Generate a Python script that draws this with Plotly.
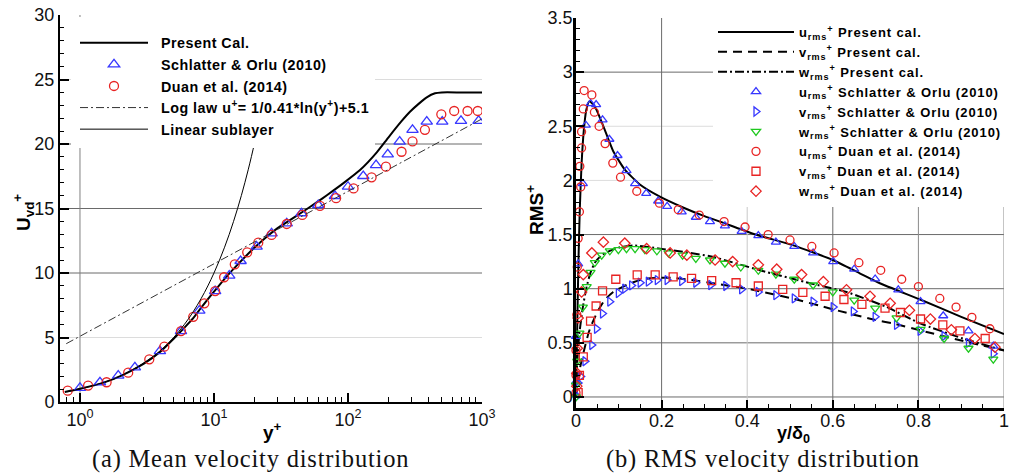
import plotly.graph_objects as go

# ---------------- (a) mean velocity distribution ----------------
yp_cal = [0.77, 1, 1.5, 2, 3, 4, 5, 6, 7, 8, 10, 12, 15, 20, 25, 30, 35, 46, 58, 70,
          92, 123, 164, 200, 250, 290, 340, 387, 446, 500, 700, 1000]
u_cal = [0.77, 1.02, 1.5, 2.0, 2.98, 3.92, 4.9, 5.75, 6.5, 7.3, 8.55, 9.55, 10.65, 11.95,
         12.85, 13.5, 13.95, 14.75, 15.45, 16.05, 16.95, 17.98, 19.35, 20.5, 21.75, 22.5,
         23.15, 23.62, 23.93, 24.0, 24.0, 24.0]

yp_schlatter = [1.0, 1.41, 1.93, 2.57, 3.95, 5.67, 7.77, 10.2, 13.0, 15.8, 20.8, 26.9, 34.9,
                45, 60, 80, 100, 130, 162, 198, 243, 303, 387, 505, 697, 943]
u_schlatter = [1.1, 1.53, 2.04, 2.69, 3.95, 5.5, 7.08, 8.6, 9.8, 10.93, 12.04, 13.07, 13.85,
               14.63, 15.27, 15.97, 16.69, 17.52, 18.37, 19.2, 20.18, 21.09, 21.73, 21.73,
               21.8, 21.8]

yp_duan = [0.81, 1.15, 1.58, 2.29, 3.29, 4.26, 5.67, 7.0, 8.47, 10.2, 11.9, 14.3, 17.7, 21.4,
           26.9, 34.9, 45.6, 61.8, 81.5, 110, 150, 192, 251, 303, 375, 497, 620, 780, 930]
u_duan = [0.88, 1.27, 1.53, 2.27, 3.31, 4.29, 5.5, 6.6, 7.65, 8.6, 9.67, 10.67, 11.6, 12.35,
          12.95, 13.8, 14.5, 15.2, 15.8, 16.56, 17.42, 18.24, 19.4, 20.2, 21.1, 22.3, 22.56,
          22.56, 22.56]

# log law is a straight line on the log axis: its two end points
yp_loglaw = [0.79, 1000]
u_loglaw = [4.52, 21.95]

yp_linear = [0.8, 1, 2, 4, 6, 8, 10, 12, 14, 16, 18, 20, 21]
u_linear = [0.8, 1, 2, 4, 6, 8, 10, 12, 14, 16, 18, 20, 21]

# ---------------- (b) RMS velocity distribution ----------------
x_u_cal = [0, 0.002, 0.004, 0.006, 0.009, 0.013, 0.018, 0.024, 0.031, 0.038, 0.047, 0.064,
           0.087, 0.114, 0.15, 0.196, 0.25, 0.3, 0.35, 0.42, 0.508, 0.6, 0.664, 0.71, 0.804,
           0.9, 1.0]
u_rms_cal = [0, 0.45, 0.9, 1.3, 1.75, 2.15, 2.45, 2.65, 2.73, 2.71, 2.66, 2.50, 2.27, 2.10,
             1.96, 1.85, 1.75, 1.67, 1.60, 1.50, 1.40, 1.265, 1.14, 1.05, 0.90, 0.74, 0.58]

x_v_cal = [0, 0.004, 0.01, 0.02, 0.03, 0.04, 0.052, 0.068, 0.087, 0.11, 0.134, 0.16, 0.196,
           0.227, 0.27, 0.32, 0.4, 0.5, 0.6, 0.7, 0.74, 0.81, 0.89, 1.0]
v_rms_cal = [0, 0.12, 0.28, 0.45, 0.6, 0.7, 0.80, 0.90, 0.97, 1.02, 1.06, 1.09, 1.10, 1.10,
             1.08, 1.05, 1.0, 0.915, 0.81, 0.71, 0.68, 0.61, 0.53, 0.43]

x_w_cal = [0, 0.003, 0.008, 0.016, 0.025, 0.034, 0.044, 0.06, 0.079, 0.1, 0.134, 0.196, 0.313,
           0.43, 0.547, 0.632, 0.726, 0.804, 0.904, 1.0]
w_rms_cal = [0, 0.33, 0.59, 0.83, 1.02, 1.15, 1.24, 1.31, 1.35, 1.38, 1.40, 1.37, 1.30, 1.17,
             1.05, 0.97, 0.83, 0.68, 0.54, 0.43]

x_u_sch = [0.0, 0.0, 0.0, 0.005, 0.016, 0.023, 0.034, 0.047, 0.062, 0.078, 0.097, 0.118, 0.138,
           0.164, 0.192, 0.213, 0.247, 0.28, 0.313, 0.348, 0.387, 0.426, 0.467, 0.51, 0.554,
           0.601, 0.650, 0.699, 0.753, 0.805, 0.858, 0.917, 0.975]
u_rms_sch = [0.02, 0.14, 0.56, 1.23, 1.97, 2.51, 2.71, 2.70, 2.56, 2.38, 2.23, 2.09, 1.97, 1.88,
             1.81, 1.76, 1.71, 1.66, 1.62, 1.58, 1.53, 1.49, 1.43, 1.39, 1.33, 1.25, 1.18,
             1.09, 0.99, 0.88, 0.75, 0.61, 0.47]

x_v_sch = [0.001, 0.005, 0.011, 0.021, 0.037, 0.048, 0.062, 0.079, 0.099, 0.114, 0.13, 0.15,
           0.169, 0.19, 0.213, 0.247, 0.28, 0.315, 0.35, 0.387, 0.426, 0.467, 0.51, 0.554,
           0.601, 0.648, 0.699, 0.749, 0.804, 0.86, 0.917, 0.975]
v_rms_sch = [0.0, 0.13, 0.19, 0.33, 0.48, 0.63, 0.77, 0.88, 0.96, 1.0, 1.03, 1.055, 1.065,
             1.08, 1.08, 1.07, 1.055, 1.034, 1.025, 0.994, 0.97, 0.94, 0.91, 0.88, 0.83, 0.79,
             0.74, 0.665, 0.61, 0.563, 0.50, 0.40]

x_w_sch = [0.0, 0.0, 0.003, 0.008, 0.016, 0.025, 0.034, 0.044, 0.06, 0.079, 0.099, 0.118,
           0.138, 0.161, 0.189, 0.216, 0.249, 0.28, 0.313, 0.348, 0.385, 0.426, 0.467, 0.51,
           0.554, 0.6, 0.65, 0.699, 0.749, 0.805, 0.86, 0.917, 0.975]
w_rms_sch = [0.0, 0.11, 0.33, 0.59, 0.83, 1.02, 1.15, 1.24, 1.31, 1.35, 1.36, 1.37, 1.37,
             1.36, 1.35, 1.33, 1.31, 1.28, 1.265, 1.235, 1.20, 1.17, 1.135, 1.087, 1.034,
             0.97, 0.895, 0.82, 0.73, 0.625, 0.54, 0.45, 0.35]

x_u_duan = [0.0, 0.0, 0.0, 0.002, 0.003, 0.005, 0.008, 0.011, 0.009, 0.013, 0.013, 0.017,
            0.019, 0.037, 0.043, 0.054, 0.068, 0.086, 0.104, 0.142, 0.195, 0.239, 0.288,
            0.346, 0.395, 0.449, 0.5, 0.551, 0.603, 0.661, 0.712, 0.761, 0.80, 0.85, 0.888,
            0.925, 0.967]
u_rms_duan = [0.04, 0.2, 0.43, 0.76, 1.2, 1.465, 1.71, 1.94, 2.13, 2.30, 2.45, 2.66, 2.83,
              2.79, 2.63, 2.50, 2.34, 2.16, 2.03, 1.90, 1.79, 1.73, 1.68, 1.62, 1.57, 1.50,
              1.45, 1.39, 1.33, 1.24, 1.17, 1.087, 1.02, 0.91, 0.83, 0.735, 0.63]

x_v_duan = [0.005, 0.008, 0.017, 0.026, 0.034, 0.047, 0.062, 0.093, 0.143, 0.185, 0.227, 0.27,
            0.317, 0.374, 0.426, 0.483, 0.53, 0.582, 0.626, 0.668, 0.722, 0.758, 0.805, 0.857,
            0.897, 0.956]
v_rms_duan = [0.04, 0.2, 0.37, 0.55, 0.70, 0.84, 0.98, 1.087, 1.127, 1.127, 1.11, 1.095,
              1.075, 1.055, 1.025, 0.994, 0.966, 0.93, 0.90, 0.855, 0.82, 0.78, 0.72, 0.665,
              0.61, 0.54]

x_w_duan = [0.002, 0.002, 0.003, 0.005, 0.013, 0.017, 0.037, 0.064, 0.114, 0.165, 0.22, 0.259,
            0.325, 0.366, 0.426, 0.469, 0.527, 0.578, 0.632, 0.687, 0.734, 0.779, 0.828,
            0.877, 0.932, 0.979]
w_rms_duan = [0.1, 0.22, 0.45, 0.73, 0.97, 1.13, 1.33, 1.43, 1.42, 1.37, 1.33, 1.31, 1.265,
              1.25, 1.22, 1.18, 1.13, 1.065, 0.99, 0.93, 0.865, 0.80, 0.72, 0.62, 0.54, 0.46]

# ---------------- styling ----------------
BLUE = "rgb(55,55,255)"
RED = "rgb(232,35,35)"
GREEN = "rgb(30,200,30)"
SANS = "Liberation Sans"
SERIF = "Liberation Serif"
W, H = 1009, 474


def px_x(p):
    return p / W


def px_y(p):
    return (H - p) / H


def spaced(text, px):
    return '<span style="letter-spacing:%spx">%s</span>' % (px, text)


fig = go.Figure()

# panel (a)
LEG_A = "\u00a0\u00a0"
fig.add_trace(go.Scatter(x=yp_cal, y=u_cal, mode="lines", name=LEG_A + spaced("Present Cal.", 0.5),
                         line=dict(color="black", width=2, shape="spline", smoothing=0.5),
                         legend="legend", xaxis="x", yaxis="y"))
fig.add_trace(go.Scatter(x=yp_schlatter, y=u_schlatter, mode="markers",
                         name=LEG_A + spaced("Schlatter &amp; Orlu (2010)", 0.5), legend="legend",
                         marker=dict(symbol="triangle-up-open", size=10, color=BLUE,
                                     line=dict(width=1.3)),
                         xaxis="x", yaxis="y"))
fig.add_trace(go.Scatter(x=yp_duan, y=u_duan, mode="markers",
                         name=LEG_A + spaced("Duan et al. (2014)", 0.5), legend="legend",
                         marker=dict(symbol="circle-open", size=9, color=RED,
                                     line=dict(width=1.3)),
                         xaxis="x", yaxis="y"))
fig.add_trace(go.Scatter(x=yp_loglaw, y=u_loglaw, mode="lines",
                         name=LEG_A + spaced("Log law u<sup>+</sup>= 1/0.41*ln(y<sup>+</sup>)+5.1", 0.5),
                         legend="legend",
                         line=dict(color="#333333", width=1, dash="8px,3px,2px,3px"),
                         xaxis="x", yaxis="y"))
fig.add_trace(go.Scatter(x=yp_linear, y=u_linear, mode="lines",
                         name=LEG_A + spaced("Linear sublayer", 0.5),
                         legend="legend", line=dict(color="black", width=1, shape="spline"),
                         xaxis="x", yaxis="y"))

# panel (b)
rms = "<sub>rms</sub><sup>+</sup>"
LS_B = 0.9
fig.add_trace(go.Scatter(x=x_u_cal, y=u_rms_cal, mode="lines",
                         name=spaced("u" + rms + " Present cal.", LS_B),
                         legend="legend2",
                         line=dict(color="black", width=2, shape="spline", smoothing=0.5),
                         xaxis="x2", yaxis="y2"))
fig.add_trace(go.Scatter(x=x_v_cal, y=v_rms_cal, mode="lines",
                         name=spaced("v" + rms + " Present cal.", LS_B),
                         legend="legend2",
                         line=dict(color="black", width=2, dash="9px,6px", shape="spline",
                                   smoothing=0.5),
                         xaxis="x2", yaxis="y2"))
fig.add_trace(go.Scatter(x=x_w_cal, y=w_rms_cal, mode="lines",
                         name=spaced("w" + rms + " Present cal.", LS_B),
                         legend="legend2",
                         line=dict(color="black", width=2, dash="9px,3px,2px,3px",
                                   shape="spline", smoothing=0.5),
                         xaxis="x2", yaxis="y2"))

marker_sets = [
    (x_u_sch, u_rms_sch, "u" + rms + " Schlatter &amp; Orlu (2010)", "triangle-up-open", BLUE),
    (x_v_sch, v_rms_sch, "v" + rms + " Schlatter &amp; Orlu (2010)", "triangle-right-open", BLUE),
    (x_w_sch, w_rms_sch, "w" + rms + " Schlatter &amp; Orlu (2010)", "triangle-down-open", GREEN),
    (x_u_duan, u_rms_duan, "u" + rms + " Duan et al. (2014)", "circle-open", RED),
    (x_v_duan, v_rms_duan, "v" + rms + " Duan et al. (2014)", "square-open", RED),
    (x_w_duan, w_rms_duan, "w" + rms + " Duan et al. (2014)", "diamond-open", RED),
]
for xs, ys, name, sym, col in marker_sets:
    fig.add_trace(go.Scatter(x=xs, y=ys, mode="markers", name=spaced(name, LS_B),
                             legend="legend2", cliponaxis=False,
                             marker=dict(symbol=sym, size=8, color=col, line=dict(width=1.3)),
                             xaxis="x2", yaxis="y2"))

# ---------------- grid lines ----------------
DARK = "#6a6a6a"
LIGHT = "#dcdcdc"
shapes = []
for val, col in [(5, LIGHT), (10, DARK), (15, DARK), (20, DARK), (25, LIGHT)]:
    shapes.append(dict(type="line", xref="x domain", yref="y", x0=0, x1=1, y0=val, y1=val,
                       line=dict(color=col, width=1), layer="below"))
for dec in [0, 1]:
    shapes.append(dict(type="line", xref="x", yref="y domain", x0=dec, x1=dec, y0=0, y1=1,
                       line=dict(color="#808080", width=1), layer="below"))
for val, col in [(0, DARK), (0.5, DARK), (1, DARK), (1.5, DARK), (2, LIGHT), (2.5, LIGHT),
                 (3, DARK)]:
    shapes.append(dict(type="line", xref="x2 domain", yref="y2", x0=0, x1=1, y0=val, y1=val,
                       line=dict(color=col, width=1), layer="below"))
for val, col in [(0.2, DARK), (0.4, "#c8c8c8"), (0.6, DARK), (0.8, "#8a8a8a"), (1.0, "#8a8a8a")]:
    shapes.append(dict(type="line", xref="x2", yref="y2 domain", x0=val, x1=val, y0=0, y1=1,
                       line=dict(color=col, width=1), layer="below"))

# white backing panel behind the legend of panel (a), clear of the axis ticks
shapes.append(dict(type="rect", xref="paper", yref="paper",
                   x0=px_x(71), x1=px_x(372), y0=px_y(148), y1=px_y(17),
                   fillcolor="white", line=dict(width=0), layer="above"))

# ---------------- axes ----------------
tick_font = dict(family=SANS, size=18, color="#111111")
log_major = [1, 10, 100, 1000]
log_major_text = ["10<sup>0</sup>", "10<sup>1</sup>", "10<sup>2</sup>", "10<sup>3</sup>"]
log_minor = [m * 10 ** e for e in range(-1, 3) for m in range(2, 10) if 0.72 < m * 10 ** e < 1000]

common = dict(ticks="inside", tickcolor="black", showline=True, linecolor="black",
              showgrid=False, zeroline=False, tickfont=tick_font, automargin=False,
              ticklabeloverflow="allow")

fig.update_layout(
    width=W, height=H, margin=dict(l=0, r=0, t=0, b=0, autoexpand=False),
    paper_bgcolor="white", plot_bgcolor="white", showlegend=True,
    xaxis=dict(type="log", range=[-0.149, 3], domain=[px_x(60), px_x(482)], anchor="y",
               tickmode="array", tickvals=log_major, ticktext=log_major_text,
               ticklen=9, tickwidth=2, linewidth=2,
               minor=dict(tickmode="array", tickvals=log_minor, ticks="inside", ticklen=5,
                          tickwidth=1, tickcolor="black", showgrid=False), **common),
    yaxis=dict(range=[0, 30], domain=[px_y(402), px_y(15)], anchor="x",
               tickmode="linear", tick0=0, dtick=5,
               ticklen=9, tickwidth=2, linewidth=2,
               minor=dict(dtick=1, ticks="inside", ticklen=4, tickwidth=1, tickcolor="black",
                          showgrid=False), **common),
    xaxis2=dict(range=[0, 1], domain=[px_x(576), px_x(1004)], anchor="y2",
                tickmode="array", tickvals=[0, 0.2, 0.4, 0.6, 0.8, 1],
                ticktext=["0", "0.2", "0.4", "0.6", "0.8", "1"],
                ticklen=8, tickwidth=2, linewidth=2.5, ticklabelstandoff=-5,
                minor=dict(dtick=0.05, tick0=0, ticks="inside", ticklen=4, tickwidth=1,
                           tickcolor="black", showgrid=False), **common),
    yaxis2=dict(range=[-0.1, 3.5], domain=[px_y(407.8), px_y(18)], anchor="x2",
                tickmode="array", tickvals=[0, 0.5, 1, 1.5, 2, 2.5, 3, 3.5],
                ticktext=["0", "0.5", "1", "1.5", "2", "2.5", "3", "3.5"],
                ticklen=8, tickwidth=2, linewidth=2.5, ticklabelstandoff=-3,
                minor=dict(dtick=0.1, tick0=0, ticks="inside", ticklen=4, tickwidth=1,
                           tickcolor="black", showgrid=False), **common),
    legend=dict(x=px_x(75), y=px_y(27), xanchor="left", yanchor="top", bgcolor="white",
                borderwidth=0, itemwidth=68, tracegroupgap=0,
                font=dict(family=SANS, size=14.3, color="black", weight="bold")),
    legend2=dict(x=px_x(713), y=px_y(17), xanchor="left", yanchor="top", bgcolor="white",
                 borderwidth=0, itemwidth=76, tracegroupgap=0,
                 font=dict(family=SANS, size=13, color="black", weight="bold")),
    shapes=shapes,
)

# axis titles and captions
ann = dict(xref="paper", yref="paper", showarrow=False, xanchor="center", yanchor="middle")
fig.add_annotation(text="<b>U<sub>vd</sub><sup>+</sup></b>", x=px_x(24), y=px_y(213),
                   textangle=-90, font=dict(family=SANS, size=19, color="black"), **ann)
fig.add_annotation(text="<b>y<sup>+</sup></b>", x=px_x(272), y=px_y(431),
                   font=dict(family=SANS, size=19, color="black"), **ann)
fig.add_annotation(text="<b>RMS<sup>+</sup></b>", x=px_x(535), y=px_y(210),
                   textangle=-90, font=dict(family=SANS, size=19, color="black"), **ann)
fig.add_annotation(text="<b>y/δ<sub>0</sub></b>", x=px_x(793), y=px_y(434),
                   font=dict(family=SANS, size=18, color="black"), **ann)
fig.add_annotation(text=spaced("(a) Mean velocity distribution", 0.8), x=px_x(250), y=px_y(459),
                   font=dict(family=SERIF, size=24.5, color="#111111"), **ann)
fig.add_annotation(text=spaced("(b) RMS velocity distribution", 0.8), x=px_x(763), y=px_y(459),
                   font=dict(family=SERIF, size=24.5, color="#111111"), **ann)

fig.write_html("out.html")
